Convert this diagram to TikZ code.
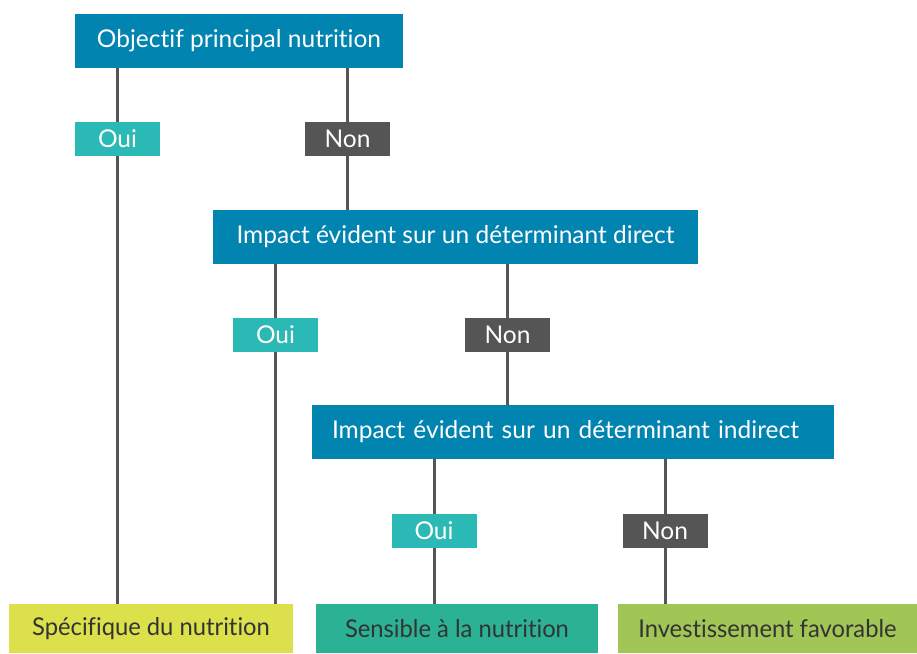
\documentclass[tikz,border=0pt]{standalone}
\usepackage{fontspec}
\setmainfont[Ligatures=NoCommon]{Lato}
\newfontfamily\narrowfont[Ligatures=NoCommon, FakeStretch=0.97]{Lato}
\definecolor{qblue}{HTML}{0284B0}
\definecolor{ouiteal}{HTML}{2BB9B5}
\definecolor{nongray}{HTML}{555555}
\definecolor{resyellow}{HTML}{DCE04B}
\definecolor{resgreen}{HTML}{2BB295}
\definecolor{reslime}{HTML}{A2C656}
\definecolor{restext}{HTML}{333333}

\tikzset{%
  % Specifications for style of nodes:
     question/.style = {rectangle, fill=qblue, text=white, minimum height=54pt, inner xsep=20pt, font=\fontsize{24.5}{28}\selectfont},
       answer/.style = {rectangle, minimum width=85pt, minimum height=34pt, inner sep=0pt, text=white, font=\fontsize{24.5}{28}\selectfont},
          oui/.style = {answer, fill=ouiteal},
          non/.style = {answer, fill=nongray},
       result/.style = {rectangle, minimum height=49pt, inner sep=0pt, text=restext, font=\narrowfont\fontsize{24.5}{28}\selectfont},
         link/.style = {draw=nongray, line width=3pt},
}

\begin{document}
\begin{tikzpicture}[x=1pt, y=-1pt]
    \useasboundingbox (0,0) rectangle (917,653);

    % Draw nodes
    \node (q1)    [question, minimum width=328pt]               at (239,41)    {Objectif principal nutrition};
    \node (oui1)  [oui]                                         at (117.5,139) {Oui};
    \node (non1)  [non]                                         at (347.5,139) {Non};
    \node (q2)    [question, minimum width=485pt]               at (455.5,237) {Impact évident sur un déterminant direct};
    \node (oui2)  [oui]                                         at (275.5,335) {Oui};
    \node (non2)  [non]                                         at (507.5,335) {Non};
    \node (q3)    [question, text width=482pt, align=left]      at (573,432)   {Impact évident sur un déterminant indirect};
    \node (oui3)  [oui]                                         at (434,531)   {Oui};
    \node (non3)  [non]                                         at (665,531)   {Non};
    \node (res1)  [result, fill=resyellow, minimum width=284pt] at (151,628.5) {Spécifique du nutrition};
    \node (res2)  [result, fill=resgreen, minimum width=282pt]  at (457,628.5) {Sensible à la nutrition};
    \node (res3)  [result, fill=reslime, minimum width=299pt]   at (767.5,628.5) {Investissement favorable};

    % Draw links
    \draw[link] (q1.south -| oui1) -- (oui1.north);
    \draw[link] (oui1.south) -- (res1.north -| oui1);
    \draw[link] (q1.south -| non1) -- (non1.north);
    \draw[link] (non1.south) -- (q2.north -| non1);

    \draw[link] (q2.south -| oui2) -- (oui2.north);
    \draw[link] (oui2.south) -- (res1.north -| oui2);
    \draw[link] (q2.south -| non2) -- (non2.north);
    \draw[link] (non2.south) -- (q3.north -| non2);

    \draw[link] (q3.south -| oui3) -- (oui3.north);
    \draw[link] (oui3.south) -- (res2.north -| oui3);
    \draw[link] (q3.south -| non3) -- (non3.north);
    \draw[link] (non3.south) -- (res3.north -| non3);

\end{tikzpicture}
\end{document}
